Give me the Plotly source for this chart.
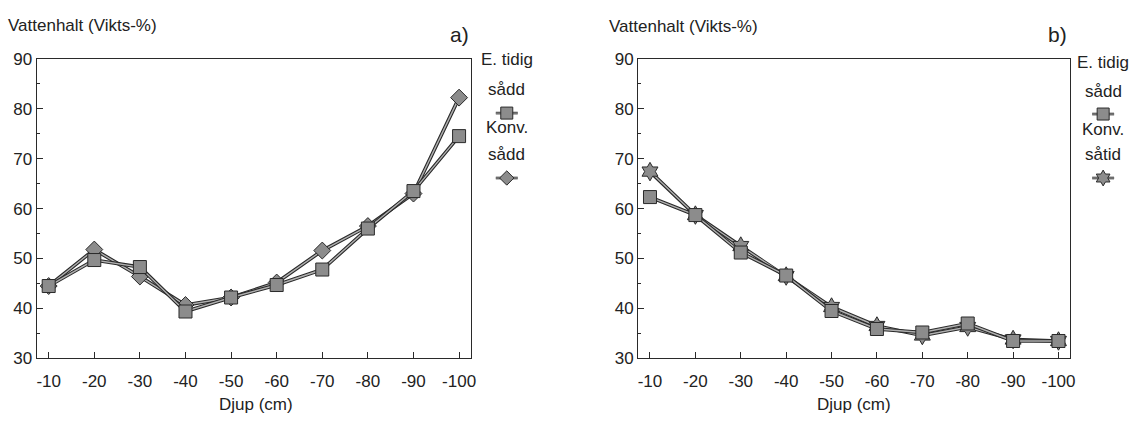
import plotly.graph_objects as go

depth = [-10, -20, -30, -40, -50, -60, -70, -80, -90, -100]
a_tidig = [44.5, 49.7, 48.3, 39.4, 42.2, 44.7, 47.8, 56.0, 63.5, 74.5]
a_konv = [44.5, 51.8, 46.4, 40.7, 42.2, 45.2, 51.6, 56.5, 63.0, 82.2]
b_tidig = [62.3, 58.7, 51.2, 46.6, 39.5, 35.9, 35.2, 37.0, 33.5, 33.5]
b_konv = [67.4, 58.7, 52.5, 46.5, 40.3, 36.5, 34.6, 36.3, 33.8, 33.5]
y_ticks = [30, 40, 50, 60, 70, 80, 90]

FONT = "Liberation Sans, Arial, sans-serif"
DARK = "#2a2a2a"
FILL = "#8c8c8c"

W, H = 1142, 421
def px(x):
    return x / W
def py(y):
    return 1 - y / H

fig = go.Figure()

def add_series(xa, ya, ys, symbol, size):
    fig.add_trace(go.Scatter(x=depth, y=ys, xaxis=xa, yaxis=ya, mode="lines",
                             line=dict(color=DARK, width=3.6), showlegend=False, hoverinfo="skip"))
    fig.add_trace(go.Scatter(x=depth, y=ys, xaxis=xa, yaxis=ya, mode="lines+markers",
                             line=dict(color="#b0b0b0", width=1.4),
                             marker=dict(symbol=symbol, size=size, color=FILL,
                                         line=dict(color=DARK, width=1)),
                             showlegend=False))

add_series("x", "y", a_konv, "diamond", 13)
add_series("x", "y", a_tidig, "square", 13)
add_series("x2", "y2", b_konv, "hexagram", 14)
add_series("x2", "y2", b_tidig, "square", 13)

# legend glyphs on a hidden overlay axis in pixel units
def glyph(cx, cy, symbol, size):
    fig.add_trace(go.Scatter(x=[cx - 11, cx + 11], y=[cy, cy], xaxis="x3", yaxis="y3", mode="lines",
                             line=dict(color=DARK, width=2.6), showlegend=False, hoverinfo="skip"))
    fig.add_trace(go.Scatter(x=[cx - 11, cx + 11], y=[cy, cy], xaxis="x3", yaxis="y3", mode="lines",
                             line=dict(color="#b0b0b0", width=1), showlegend=False, hoverinfo="skip"))
    fig.add_trace(go.Scatter(x=[cx], y=[cy], xaxis="x3", yaxis="y3", mode="markers",
                             marker=dict(symbol=symbol, size=size, color=FILL, line=dict(color=DARK, width=1)),
                             showlegend=False, hoverinfo="skip"))

glyph(509, 109, "square", 12)
glyph(509, 177, "diamond", 11)
glyph(1108, 110, "square", 12)
glyph(1108, 177, "hexagram", 12)

axis_common = dict(showgrid=False, zeroline=False, ticks="inside", ticklen=6,
                   tickcolor=DARK, tickfont=dict(family=FONT, size=17, color="#222"),
                   showline=True, linecolor=DARK, linewidth=1.3, mirror=True)

xr = [-7.4, -102.6]
fig.update_layout(
    width=W, height=H, margin=dict(l=0, r=0, t=0, b=0),
    paper_bgcolor="white", plot_bgcolor="rgba(0,0,0,0)",
    xaxis=dict(domain=[px(37), px(473)], range=xr, tickvals=depth, ticktext=[str(d) for d in depth],
               anchor="y", ticklabelstandoff=7, **axis_common),
    yaxis=dict(domain=[py(366), py(52)], range=[30, 90], tickvals=y_ticks, anchor="x",
               minor=dict(dtick=5, ticks="inside", ticklen=3, tickcolor=DARK), **axis_common),
    xaxis2=dict(domain=[px(641), px(1075)], range=xr, tickvals=depth, ticktext=[str(d) for d in depth],
                anchor="y2", ticklabelstandoff=7, **axis_common),
    yaxis2=dict(domain=[py(366), py(52)], range=[30, 90], tickvals=y_ticks, anchor="x2",
                minor=dict(dtick=5, ticks="inside", ticklen=3, tickcolor=DARK), **axis_common),
    xaxis3=dict(domain=[0, 1], range=[0, W], visible=False, fixedrange=True),
    yaxis3=dict(domain=[0, 1], range=[H, 0], visible=False, fixedrange=True, anchor="x3"),
)

def ann(x, y, text, size=17, xanchor="center"):
    fig.add_annotation(x=px(x), y=py(y), xref="paper", yref="paper", text=text, showarrow=False,
                       xanchor=xanchor, yanchor="middle", font=dict(family=FONT, size=size, color="#222"))

ann(6, 17, "Vattenhalt (Vikts-%)", 17, "left")
ann(610, 18, "Vattenhalt (Vikts-%)", 17, "left")
ann(462, 27, "a)", 21)
ann(1062, 27, "b)", 21)
ann(257, 414, "Djup (cm)", 17)
ann(858, 414, "Djup (cm)", 17)

# legends
ann(509, 53, "E. tidig", 17)
ann(509, 84, "sådd", 17)
ann(509, 124, "Konv.", 17)
ann(509, 152, "sådd", 17)
ann(1108, 56, "E. tidig", 17)
ann(1108, 86, "sådd", 17)
ann(1108, 126, "Konv.", 17)
ann(1108, 152, "såtid", 17)

fig.write_html("out.html")
